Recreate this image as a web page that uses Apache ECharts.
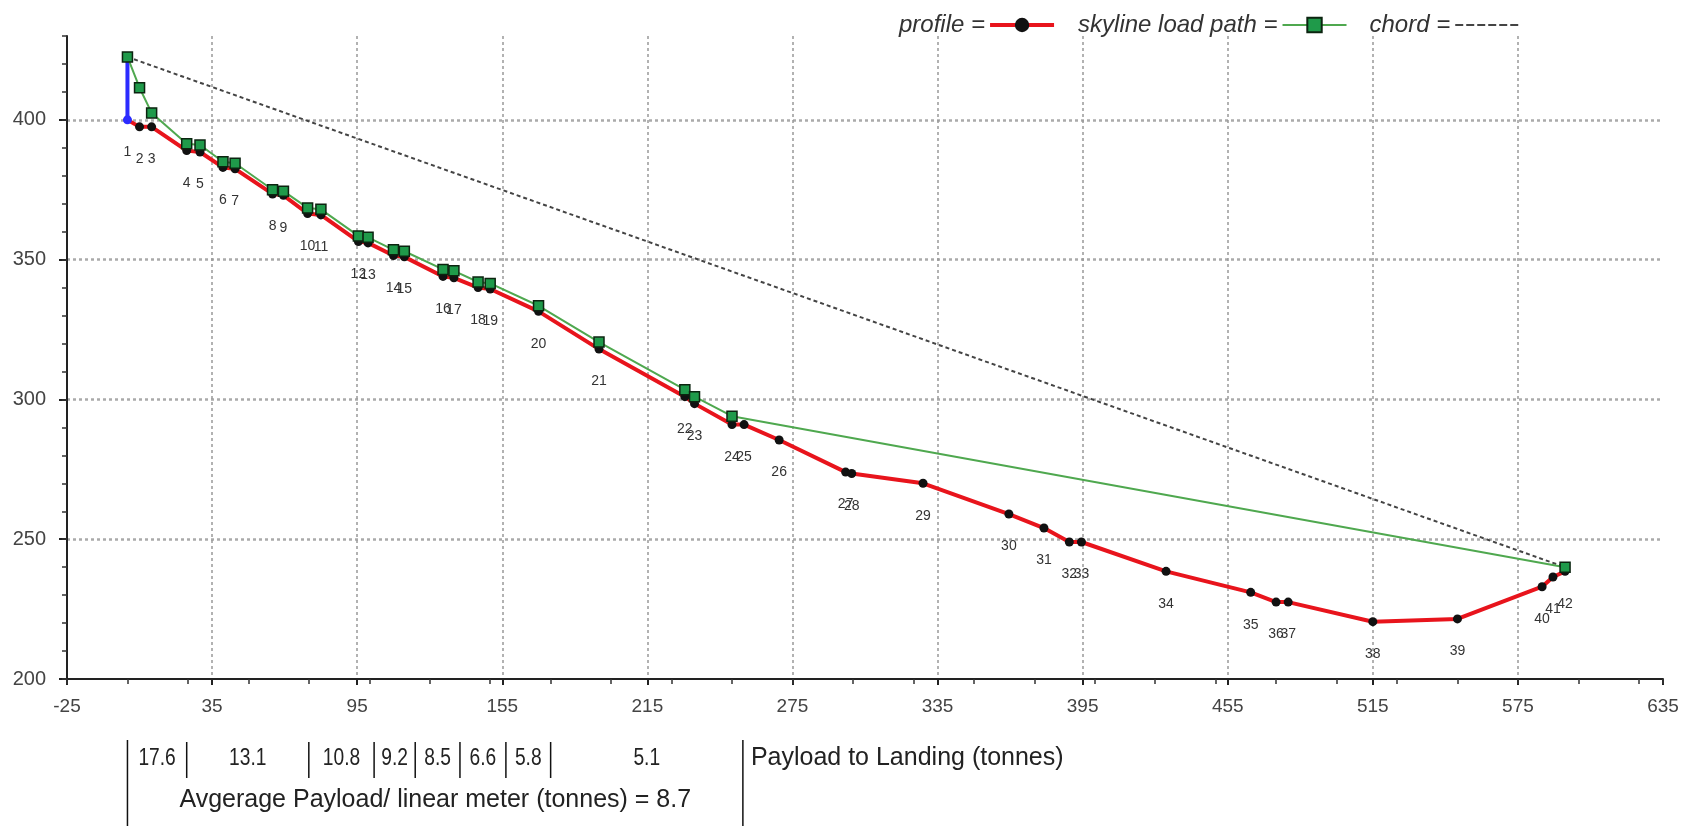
<!DOCTYPE html>
<html>
<head>
<meta charset="utf-8">
<title>Skyline profile</title>
<script src="https://cdn.jsdelivr.net/npm/echarts@6.0.0/dist/echarts.min.js"></script>
<style>
  html, body { margin: 0; padding: 0; background: #fff; }
  #main { width: 1689px; height: 826px; }
</style>
</head>
<body>
<div id="main"></div>
<script>
// ground profile: stations (m) and elevations (m), point 1..42
const stationX = [0, 5, 10, 24.5, 30, 39.5, 44.5, 60, 64.5, 74.5, 80, 95.5, 99.5, 110, 114.5,
  130.5, 135, 145, 150, 170, 195, 230.5, 234.5, 250, 255, 269.5, 297, 299.5, 329, 364.5,
  379, 389.5, 394.5, 429.5, 464.5, 475, 480, 515, 550, 585, 589.5, 594.5];
const profileY = [400, 397.5, 397.5, 389, 388.5, 383, 382.5, 373.5, 373, 366.5, 366, 356.5, 356,
  351.5, 351, 344, 343.5, 340, 339.5, 331.5, 318, 301, 298.5, 291, 291, 285.5, 274, 273.5,
  270, 259, 254, 249, 249, 238.5, 231, 227.5, 227.5, 220.5, 221.5, 233, 236.5, 238.5];

// skyline load path
const skylineX = [0, 5, 10, 24.5, 30, 39.5, 44.5, 60, 64.5, 74.5, 80, 95.5, 99.5, 110, 114.5,
  130.5, 135, 145, 150, 170, 195, 230.5, 234.5, 250, 594.5];
const skylineY = [422.5, 411.5, 402.5, 391.5, 391, 385, 384.5, 375, 374.5, 368.5, 368, 358.5, 358,
  353.5, 353, 346.5, 346, 342, 341.5, 333.5, 320.5, 303.5, 301, 294, 240];

// chord and tower
const chordX = [0, 594.5];
const chordY = [422.5, 240];
const towerX = [0, 0];
const towerY = [400, 422.5];

// payload table under the axis
const payloadValues = ['17.6', '13.1', '10.8', '9.2', '8.5', '6.6', '5.8', '5.1'];
const payloadBreaks = [0, 24.5, 75, 102, 119, 137.5, 156.5, 175, 254.5];
const payloadTitle = 'Payload to Landing (tonnes)';
const averageText = 'Avgerage Payload/ linear meter (tonnes) = 8.7';

const chart = echarts.init(document.getElementById('main'));

const profileData = stationX.map((x, i) => {
  const item = { value: [x, profileY[i]] };
  if (i === 0) item.itemStyle = { color: '#2b2bff' };
  return item;
});
const skylineData = skylineX.map((x, i) => [x, skylineY[i]]);
const chordData = chordX.map((x, i) => [x, chordY[i]]);
const towerData = towerX.map((x, i) => [x, towerY[i]]);

const axisFont = "'Liberation Sans', Arial, sans-serif";
const pointFont = "'Liberation Sans Narrow', 'Liberation Sans', Arial, sans-serif";

// dashed legend mark for the chord (box 64 x 16)
const dashIcon = 'path://M0,0M64,16M0,7h8v2h-8zM11,7h8v2h-8zM22,7h8v2h-8zM33,7h8v2h-8zM44,7h8v2h-8zM55,7h8v2h-8z';

const option = {
  animation: false,
  backgroundColor: '#fff',
  grid: { left: 67, right: 26, top: 36, bottom: 147, containLabel: false, outerBoundsMode: 'none' },
  legend: {
    data: [
      { name: 'profile', lineStyle: { width: 4 } },
      'skyline load path',
      { name: 'chord', icon: dashIcon }
    ],
    left: 894,
    top: 8,
    align: 'right',
    itemWidth: 64,
    itemHeight: 18,
    itemGap: 22,
    formatter: '{name} =',
    textStyle: { fontStyle: 'italic', fontSize: 24, color: '#333', fontFamily: axisFont }
  },
  xAxis: [
    {
      type: 'value',
      min: -25,
      max: 635,
      interval: 60,
      axisLine: { show: true, lineStyle: { color: '#222', width: 2 } },
      axisTick: { show: true, length: 6, lineStyle: { color: '#222', width: 2 } },
      axisLabel: { color: '#444', fontSize: 19, fontFamily: axisFont, margin: 18 },
      splitLine: {
        show: true, showMinLine: false, showMaxLine: false,
        lineStyle: { color: '#999', width: 1.5, type: [3, 3] }
      }
    },
    {
      type: 'value',
      min: -25,
      max: 635,
      interval: 25,
      position: 'bottom',
      axisLine: { show: false },
      axisTick: { show: true, length: 5, lineStyle: { color: '#333', width: 1.5 } },
      axisLabel: { show: false },
      splitLine: { show: false }
    }
  ],
  yAxis: [
    {
      type: 'value',
      min: 200,
      max: 430,
      interval: 50,
      axisLine: { show: true, onZero: false, lineStyle: { color: '#222', width: 2 } },
      axisTick: { show: true, length: 8, lineStyle: { color: '#222', width: 2 } },
      axisLabel: { color: '#444', fontSize: 20, fontFamily: axisFont, margin: 21, showMaxLabel: false },
      splitLine: {
        show: true, showMinLine: false, showMaxLine: false,
        lineStyle: { color: '#aaa', width: 2.5, type: [3, 3] }
      }
    },
    {
      type: 'value',
      min: 200,
      max: 430,
      interval: 10,
      position: 'left',
      axisLine: { show: false, onZero: false },
      axisTick: { show: true, length: 5, lineStyle: { color: '#333', width: 1.5 } },
      axisLabel: { show: false },
      splitLine: { show: false }
    }
  ],
  series: [
    {
      name: 'chord',
      type: 'line',
      data: chordData,
      symbol: 'none',
      silent: true,
      lineStyle: { color: '#444', width: 2, type: [4, 3] },
      itemStyle: { color: '#444' }
    },
    {
      name: 'tower',
      type: 'line',
      data: towerData,
      symbol: 'none',
      silent: true,
      lineStyle: { color: '#2b2bff', width: 4 }
    },
    {
      name: 'profile',
      type: 'line',
      data: profileData,
      symbol: 'circle',
      symbolSize: 9,
      silent: true,
      lineStyle: { color: '#e8141c', width: 4 },
      itemStyle: { color: '#111' },
      label: {
        show: true,
        position: 'bottom',
        distance: 21,
        fontSize: 14,
        color: '#333',
        fontFamily: pointFont,
        formatter: p => String(p.dataIndex + 1)
      }
    },
    {
      name: 'skyline load path',
      type: 'line',
      data: skylineData,
      symbol: 'rect',
      symbolSize: 10,
      silent: true,
      lineStyle: { color: '#4fa84f', width: 2 },
      itemStyle: { color: '#1f9a4a', borderColor: '#0c2410', borderWidth: 1.5 }
    }
  ]
};

chart.setOption(option);

// payload table: bars follow the x axis
function drawPayloadTable() {
  const px = payloadBreaks.map(v => chart.convertToPixel({ xAxisIndex: 0 }, v));
  const els = [];
  const rowY = 758;
  px.forEach((x, i) => {
    const tall = i === 0 || i === px.length - 1;
    els.push({
      type: 'line',
      shape: { x1: x, y1: tall ? 740 : 742, x2: x, y2: tall ? 826 : 778 },
      style: { stroke: '#111', lineWidth: 1.5 }
    });
  });
  payloadValues.forEach((v, i) => {
    els.push({
      type: 'text',
      x: (px[i] + px[i + 1]) / 2,
      y: rowY,
      scaleX: 0.8,
      style: {
        text: v, font: "24px 'Liberation Sans', Arial, sans-serif", fill: '#222',
        align: 'center', verticalAlign: 'middle', textAlign: 'center', textVerticalAlign: 'middle'
      }
    });
  });
  els.push({
    type: 'text',
    x: px[px.length - 1] + 8,
    y: rowY,
    style: {
      text: payloadTitle, font: "25px 'Liberation Sans', Arial, sans-serif", fill: '#222',
      align: 'left', verticalAlign: 'middle', textAlign: 'left', textVerticalAlign: 'middle'
    }
  });
  els.push({
    type: 'text',
    x: px[0] + 52,
    y: 800,
    style: {
      text: averageText, font: "25px 'Liberation Sans', Arial, sans-serif", fill: '#222',
      align: 'left', verticalAlign: 'middle', textAlign: 'left', textVerticalAlign: 'middle'
    }
  });
  chart.setOption({ graphic: els });
}
drawPayloadTable();
</script>
</body>
</html>
